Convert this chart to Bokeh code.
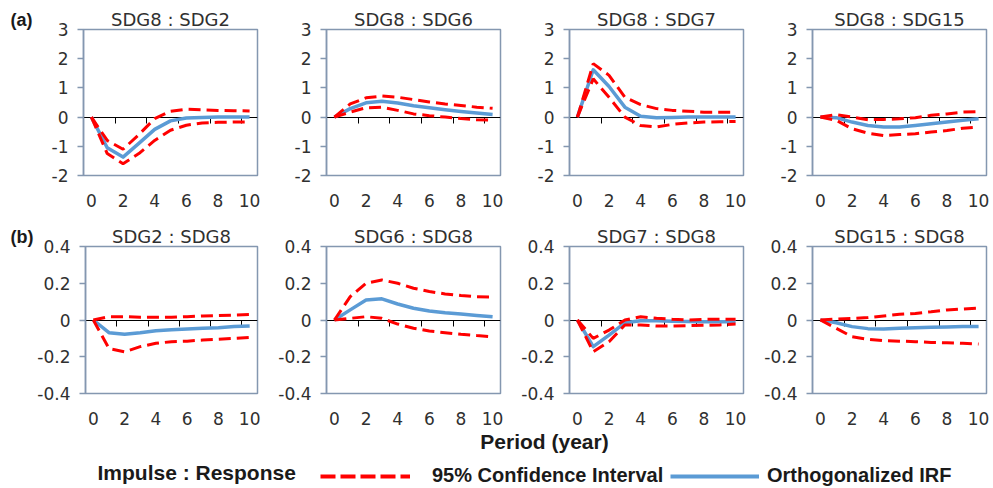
import numpy as np
from bokeh.plotting import figure
from bokeh.layouts import column, row
from bokeh.models import (Range1d, FixedTicker, LinearAxis, Label, Legend,
                          LegendItem, CustomJSTickFormatter)
from bokeh.embed import file_html
from bokeh.resources import INLINE

# ---------------- data ----------------
periods = [0, 1, 2, 3, 4, 5, 6, 7, 8, 9, 10]

x_tick_values = [0, 2, 4, 6, 8, 10]
zero_tick_values = [1.5, 3.5, 5.5, 7.5, 9.5]
y_ticks_a = [-2, -1, 0, 1, 2, 3]
y_labels_a = ["-2", "-1", "0", "1", "2", "3"]
y_ticks_b = [-0.4, -0.2, 0, 0.2, 0.4]
y_labels_b = ["-0.4", "-0.2", "0", "0.2", "0.4"]

titles_a = ["SDG8 : SDG2", "SDG8 : SDG6", "SDG8 : SDG7", "SDG8 : SDG15"]
titles_b = ["SDG2 : SDG8", "SDG6 : SDG8", "SDG7 : SDG8", "SDG15 : SDG8"]
row_tags = ["(a)", "(b)"]

# row (a)
irf_8_2 = [0, -1.05, -1.37, -0.9, -0.42, -0.13, -0.03, -0.01, 0, 0, 0]
up_8_2 = [0, -0.8, -1.1, -0.6, -0.05, 0.2, 0.27, 0.25, 0.23, 0.22, 0.21]
lo_8_2 = [0, -1.25, -1.6, -1.25, -0.8, -0.45, -0.28, -0.2, -0.18, -0.17, -0.17]

irf_8_6 = [0, 0.29, 0.49, 0.54, 0.48, 0.39, 0.32, 0.25, 0.19, 0.14, 0.09]
up_8_6 = [0, 0.45, 0.66, 0.72, 0.68, 0.6, 0.52, 0.45, 0.4, 0.34, 0.3]
lo_8_6 = [0, 0.17, 0.32, 0.34, 0.23, 0.11, 0.05, 0.0, -0.05, -0.09, -0.1]

irf_8_7 = [0, 1.62, 1.05, 0.34, 0.03, -0.02, -0.01, 0, 0, 0, 0]
up_8_7 = [0, 1.83, 1.43, 0.68, 0.43, 0.29, 0.23, 0.2, 0.17, 0.17, 0.17]
lo_8_7 = [0, 1.31, 0.68, 0.0, -0.29, -0.34, -0.25, -0.2, -0.17, -0.16, -0.15]

irf_8_15 = [0, -0.02, -0.17, -0.29, -0.34, -0.34, -0.29, -0.23, -0.17, -0.11, -0.06]
up_8_15 = [0, 0.08, 0.0, -0.09, -0.08, -0.06, -0.02, 0.06, 0.11, 0.17, 0.19]
lo_8_15 = [0, -0.11, -0.4, -0.55, -0.63, -0.6, -0.57, -0.51, -0.46, -0.38, -0.34]

# row (b)
irf_2_8 = [0, -0.069, -0.078, -0.069, -0.058, -0.053, -0.049, -0.045, -0.042, -0.036, -0.033]
up_2_8 = [0, 0.018, 0.018, 0.015, 0.015, 0.015, 0.018, 0.022, 0.024, 0.027, 0.03]
lo_2_8 = [0, -0.155, -0.173, -0.145, -0.127, -0.118, -0.115, -0.109, -0.105, -0.1, -0.095]

irf_6_8 = [0, 0.055, 0.109, 0.115, 0.087, 0.064, 0.049, 0.04, 0.033, 0.025, 0.018]
up_6_8 = [0, 0.127, 0.2, 0.218, 0.2, 0.173, 0.155, 0.142, 0.133, 0.127, 0.124]
lo_6_8 = [0, 0.009, 0.018, 0.009, -0.022, -0.045, -0.06, -0.069, -0.078, -0.085, -0.091]

irf_7_8 = [0, -0.145, -0.082, -0.015, -0.004, -0.004, -0.007, -0.008, -0.009, -0.009, -0.01]
up_7_8 = [0, -0.1, -0.055, 0.0, 0.018, 0.009, 0.004, 0.0, 0.004, 0.004, 0.004]
lo_7_8 = [0, -0.173, -0.118, -0.027, -0.027, -0.033, -0.033, -0.031, -0.029, -0.027, -0.022]

irf_15_8 = [0, -0.015, -0.036, -0.047, -0.049, -0.045, -0.042, -0.04, -0.038, -0.036, -0.035]
up_15_8 = [0, 0.005, 0.009, 0.013, 0.022, 0.031, 0.036, 0.045, 0.055, 0.06, 0.064]
lo_15_8 = [0, -0.045, -0.091, -0.105, -0.113, -0.115, -0.118, -0.122, -0.124, -0.127, -0.131]

series_a = [(irf_8_2, up_8_2, lo_8_2), (irf_8_6, up_8_6, lo_8_6),
            (irf_8_7, up_8_7, lo_8_7), (irf_8_15, up_8_15, lo_8_15)]
series_b = [(irf_2_8, up_2_8, lo_2_8), (irf_6_8, up_6_8, lo_6_8),
            (irf_7_8, up_7_8, lo_7_8), (irf_15_8, up_15_8, lo_15_8)]

legend_ci = "95% Confidence Interval"
legend_irf = "Orthogonalized IRF"
legend_title = "Impulse : Response"
x_title = "Period (year)"

# ---------------- style ----------------
RED = "#FF0000"
BLUE = "#5B9BD5"
FRAME = "#8497B0"
TXT = "#303030"
DARK = "#1a1a1a"
FONT = "DejaVu Sans"
BFONT = "Liberation Sans"

TAG_W = 34
widths = [227, 243, 243, 246]
lefts = [49, 65, 65, 65]
rights = [4, 4, 4, 7]


def make_panel(title, data, yr, yticks, ylabels, i, h, top, bottom):
    irf, up, lo = data
    p = figure(width=widths[i], height=h, x_range=Range1d(-0.5, 10.5),
               y_range=Range1d(*yr), output_backend="svg",
               toolbar_location=None, title=title,
               min_border_left=lefts[i], min_border_right=rights[i],
               min_border_top=top, min_border_bottom=bottom)
    p.title.align = "center"
    p.title.text_font = FONT
    p.title.text_font_size = "18px"
    p.title.text_font_style = "normal"
    p.title.text_color = TXT
    p.title.standoff = 0
    p.xgrid.visible = False
    p.ygrid.visible = False
    p.outline_line_color = FRAME
    p.outline_line_width = 1.5
    p.background_fill_color = "white"
    p.border_fill_color = "white"

    xa = p.xaxis[0]
    xa.ticker = FixedTicker(ticks=x_tick_values)
    xa.axis_line_color = None
    xa.major_tick_line_color = None
    xa.minor_tick_line_color = None
    xa.major_label_text_font = FONT
    xa.major_label_text_font_size = "17px"
    xa.major_label_text_color = TXT
    xa.major_label_standoff = 12

    ya = p.yaxis[0]
    ya.ticker = FixedTicker(ticks=yticks)
    ya.formatter = CustomJSTickFormatter(code="return tick.toString();")
    ya.major_label_overrides = {float(t): s for t, s in zip(yticks, ylabels)}
    ya.axis_line_color = FRAME
    ya.axis_line_width = 1.5
    ya.major_tick_line_color = FRAME
    ya.major_tick_line_width = 1.5
    ya.major_tick_out = 6
    ya.major_tick_in = 0
    ya.minor_tick_line_color = None
    ya.major_label_text_font = FONT
    ya.major_label_text_font_size = "17px"
    ya.major_label_text_color = TXT
    ya.major_label_standoff = 9

    # horizontal zero line with its small tick marks (category boundaries)
    zero_axis = LinearAxis(fixed_location=0,
                           ticker=FixedTicker(ticks=zero_tick_values))
    zero_axis.axis_line_color = "black"
    zero_axis.axis_line_width = 1
    zero_axis.major_tick_line_color = "black"
    zero_axis.major_tick_out = 6
    zero_axis.major_tick_in = 0
    zero_axis.minor_tick_line_color = None
    zero_axis.major_label_text_color = None
    zero_axis.major_label_standoff = 0
    zero_axis.level = "underlay"
    p.add_layout(zero_axis, "below")

    p.line(periods, irf, line_color=BLUE, line_width=3.5, line_join="round")
    p.line(periods, up, line_color=RED, line_width=3, line_dash="12 6")
    p.line(periods, lo, line_color=RED, line_width=3, line_dash="12 6")
    return p


def make_tag(text, h, top, bottom):
    t = figure(width=TAG_W, height=h, x_range=Range1d(0, 1),
               y_range=Range1d(0, 1), output_backend="svg",
               toolbar_location=None, title=text,
               min_border_left=0, min_border_right=0,
               min_border_top=top, min_border_bottom=bottom,
               x_axis_type=None, y_axis_type=None)
    t.xgrid.visible = False
    t.ygrid.visible = False
    t.outline_line_color = None
    t.title.align = "left"
    t.title.offset = 10
    t.title.standoff = 0
    t.title.text_font = BFONT
    t.title.text_font_size = "18px"
    t.title.text_font_style = "bold"
    t.title.text_color = DARK
    return t


row_a = [make_panel(titles_a[i], series_a[i], (-2, 3), y_ticks_a, y_labels_a,
                    i, 211, 29, 36) for i in range(4)]
row_b = [make_panel(titles_b[i], series_b[i], (-0.4, 0.4), y_ticks_b, y_labels_b,
                    i, 220, 35, 38) for i in range(4)]
tag_a = make_tag(row_tags[0], 211, 29, 36)
tag_b = make_tag(row_tags[1], 220, 35, 38)

# ---------------- bottom strip: axis title + legend ----------------
bf = figure(width=993, height=57, x_range=Range1d(0, 993), y_range=Range1d(0, 57),
            output_backend="svg", toolbar_location=None, min_border=0,
            x_axis_type=None, y_axis_type=None)
bf.xgrid.visible = False
bf.ygrid.visible = False
bf.outline_line_color = None

bf.add_layout(Label(x=544, y=47, text=x_title, text_font=BFONT,
                    text_font_size="21px", text_font_style="bold",
                    text_color=DARK, text_align="center",
                    text_baseline="middle"))
bf.add_layout(Label(x=97, y=16, text=legend_title, text_font=BFONT,
                    text_font_size="21px", text_font_style="bold",
                    text_color=DARK, text_align="left",
                    text_baseline="middle"))

# legend-only renderers (no visible data)
nan_pt = np.array([np.nan])
r_ci = bf.line(x=nan_pt, y=nan_pt, line_color=RED, line_width=4, line_dash="15 5")
r_irf = bf.line(x=nan_pt, y=nan_pt, line_color=BLUE, line_width=4)

for rend, lab, loc, gw, st in ((r_ci, legend_ci, (320, 1), 90, 22),
                               (r_irf, legend_irf, (670, 1), 89, 8)):
    leg = Legend(items=[LegendItem(label=lab, renderers=[rend])],
                 location=loc, orientation="horizontal",
                 glyph_width=gw, glyph_height=20, label_standoff=st,
                 padding=0, margin=0, border_line_color=None,
                 background_fill_alpha=0, label_text_font=BFONT,
                 label_text_font_size="20px", label_text_font_style="bold",
                 label_text_color=DARK)
    bf.add_layout(leg)

layout = column(row(tag_a, *row_a), row(tag_b, *row_b), bf)
open("out.html", "w").write(file_html(layout, INLINE))
